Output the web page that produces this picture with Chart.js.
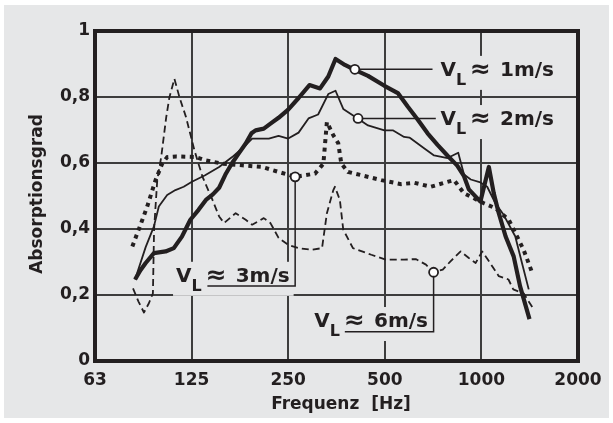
<!DOCTYPE html>
<html>
<head>
<meta charset="utf-8">
<script src="https://cdn.jsdelivr.net/npm/chart.js@4.4.1/dist/chart.umd.min.js"></script>
<style>
  html, body { margin: 0; padding: 0; background: #fff; }
  canvas { display: block; }
</style>
</head>
<body>
<canvas id="absorptionChart" width="613" height="423"></canvas>
<script>
// Frequenz in Hz / Absorptionsgrad
const freq1 = [83.3, 86.6, 89.9, 95.4, 103.7, 110.0, 116.6, 123.9, 131.4, 138.5, 145.6, 152.3, 159.3, 167.2, 175.6, 184.3, 192.1, 197.8, 209.8, 220.7, 233.3, 250, 269.3, 291.2, 314.2, 333.3, 351.1, 375.5, 403.3, 443.2, 498.6, 549.1, 589.3, 632.9, 679.7, 730.0, 784.6, 840.9, 882.7, 913.8, 993.1, 1054.9, 1092.8, 1132.9, 1189.2, 1260.5, 1319.5, 1412.2];
const absorption1 = [0.247, 0.275, 0.297, 0.327, 0.332, 0.342, 0.377, 0.428, 0.458, 0.488, 0.505, 0.525, 0.565, 0.60, 0.63, 0.659, 0.69, 0.699, 0.704, 0.72, 0.737, 0.762, 0.797, 0.836, 0.826, 0.862, 0.915, 0.897, 0.882, 0.864, 0.834, 0.812, 0.771, 0.732, 0.69, 0.655, 0.622, 0.592, 0.56, 0.52, 0.483, 0.588, 0.508, 0.448, 0.378, 0.317, 0.227, 0.127];

const freq2 = [83.3, 89.9, 95.4, 98.8, 104.9, 111.3, 118.1, 125.3, 137.7, 152.3, 167.2, 184.3, 193.0, 217.6, 233.3, 250, 269.3, 289.2, 309.9, 333.3, 351.1, 371.1, 412.7, 443.2, 498.6, 529.5, 574.3, 596.7, 664.3, 712.0, 784.6, 846.8, 882.7, 926.6, 993.1, 1042.5, 1105.8, 1172.9, 1274.6, 1337.9, 1404.4];
const absorption2 = [0.247, 0.345, 0.408, 0.468, 0.503, 0.518, 0.528, 0.543, 0.563, 0.588, 0.618, 0.654, 0.674, 0.674, 0.682, 0.674, 0.692, 0.735, 0.747, 0.809, 0.819, 0.764, 0.734, 0.714, 0.699, 0.699, 0.679, 0.677, 0.644, 0.623, 0.615, 0.631, 0.565, 0.55, 0.541, 0.528, 0.478, 0.443, 0.378, 0.297, 0.217];

const freq3 = [81.7, 87.8, 90.9, 96.5, 101.2, 104.9, 111.9, 129.0, 138.5, 155.9, 179.7, 207.3, 233.3, 262.8, 303.1, 321.8, 330.0, 345.6, 358.0, 366.0, 384.2, 422.5, 487.4, 562.5, 618.1, 695.9, 765.8, 821.9, 882.7, 948.0, 1018.2, 1105.8, 1216.6, 1260.5, 1353.7, 1434.0];
const absorption3 = [0.347, 0.428, 0.468, 0.548, 0.598, 0.618, 0.62, 0.618, 0.608, 0.598, 0.593, 0.588, 0.573, 0.558, 0.568, 0.598, 0.724, 0.684, 0.66, 0.598, 0.573, 0.563, 0.548, 0.536, 0.54, 0.528, 0.54, 0.548, 0.508, 0.493, 0.478, 0.463, 0.428, 0.398, 0.337, 0.272];

const freq4 = [82.1, 85.4, 88.8, 92.0, 94.7, 95.5, 97.7, 100.5, 104.2, 106.6, 110.5, 114.6, 120.1, 127.5, 135.2, 145.2, 152.3, 157.8, 171.5, 184.3, 193.0, 209.8, 220.1, 233.3, 250, 269.3, 295.2, 318.7, 330.0, 345.6, 349.6, 362.2, 371.1, 397.8, 453.8, 505.2, 574.3, 624.2, 671.8, 709.6, 757.9, 801.1, 861.6, 913.8, 959.3, 1005.6, 1064.4, 1132.9, 1214.2, 1257.0, 1353.7, 1453.9];
const absorption4 = [0.22, 0.18, 0.147, 0.175, 0.205, 0.40, 0.548, 0.618, 0.739, 0.799, 0.855, 0.799, 0.739, 0.639, 0.558, 0.488, 0.438, 0.418, 0.448, 0.428, 0.413, 0.433, 0.418, 0.373, 0.352, 0.342, 0.337, 0.342, 0.448, 0.518, 0.528, 0.488, 0.398, 0.342, 0.322, 0.307, 0.307, 0.309, 0.292, 0.269, 0.277, 0.302, 0.332, 0.312, 0.297, 0.332, 0.297, 0.257, 0.247, 0.217, 0.205, 0.157];

const speeds = ["1m/s", "2m/s", "3m/s", "6m/s"];

const xTickValues = [62.5, 125, 250, 500, 1000, 2000];
const xTickLabels = ["63", "125", "250", "500", "1000", "2000"];
const yTickLabels = ["0", "0,2", "0,4", "0,6", "0,8", "1"];

const INK = "#231f20";
const PANEL = "#e6e7e8";
const FONT = "'DejaVu Sans', sans-serif";

// callouts: marker on the curve, leader path, start of the "V_L ≈ ..." text (all in data units)
const callouts = [
    { circle: [403.3, 0.884], path: [[704.2, 0.884]], text: [745.3, 0.864] },
    { circle: [412.7, 0.735], path: [[721.0, 0.735]], text: [745.3, 0.715] },
    { circle: [262.8, 0.558], path: [[262.8, 0.227], [140.0, 0.227]], text: [111.8, 0.240] },
    { circle: [709.6, 0.269], path: [[709.6, 0.089], [375.3, 0.089]], text: [301.6, 0.103] }
];

function toPoints(xs, ys) {
    return xs.map((x, i) => ({ x: x, y: ys[i] }));
}

function px(chart, p) {
    return [chart.scales.x.getPixelForValue(p[0]), chart.scales.y.getPixelForValue(p[1])];
}

// widths of the pieces of "V", subscript "L", "≈", speed
function measureLabel(ctx, speed) {
    ctx.font = `bold 20px ${FONT}`;
    const wV = ctx.measureText("V").width;
    const wSpeed = ctx.measureText(speed).width;
    ctx.font = `bold 16px ${FONT}`;
    const wL = ctx.measureText("L").width;
    ctx.font = `bold 25px ${FONT}`;
    const wApprox = ctx.measureText("\u2248").width;
    const xApprox = wV + wL + 4;
    const xSpeed = xApprox + wApprox + 9;
    return { wV, wL, xApprox, xSpeed, total: xSpeed + wSpeed };
}

const decorPlugin = {
    id: "decor",
    beforeDraw(chart) {
        const ctx = chart.ctx;
        ctx.save();
        ctx.fillStyle = "#fff";
        ctx.fillRect(0, 0, chart.width, chart.height);
        ctx.fillStyle = PANEL;
        ctx.fillRect(4, 5, 605, 413);
        ctx.restore();
    },
    beforeDatasetsDraw(chart) {
        // text boxes hide the grid behind the labels
        const ctx = chart.ctx;
        ctx.save();
        ctx.fillStyle = PANEL;
        callouts.forEach((c, i) => {
            const [tx, ty] = px(chart, c.text);
            const m = measureLabel(ctx, speeds[i]);
            let bottom = ty + 9;
            c.path.forEach(p => { bottom = Math.max(bottom, px(chart, p)[1]); });
            ctx.fillRect(tx - 3, ty - 20, m.total + 7, bottom + 5 - (ty - 20));
        });
        ctx.restore();
    },
    afterDatasetsDraw(chart) {
        const ctx = chart.ctx;
        const a = chart.chartArea;
        ctx.save();

        // frame
        ctx.strokeStyle = INK;
        ctx.lineWidth = 4;
        ctx.strokeRect(a.left, a.top, a.right - a.left, a.bottom - a.top);

        // callouts
        callouts.forEach((c, i) => {
            const [cx, cy] = px(chart, c.circle);
            ctx.strokeStyle = INK;
            ctx.lineWidth = 1.5;
            ctx.beginPath();
            ctx.moveTo(cx, cy);
            c.path.forEach(p => { const q = px(chart, p); ctx.lineTo(q[0], q[1]); });
            ctx.stroke();

            ctx.beginPath();
            ctx.arc(cx, cy, 4.5, 0, Math.PI * 2);
            ctx.fillStyle = "#fff";
            ctx.fill();
            ctx.lineWidth = 1.8;
            ctx.stroke();

            const [tx, ty] = px(chart, c.text);
            const m = measureLabel(ctx, speeds[i]);
            ctx.fillStyle = INK;
            ctx.textAlign = "left";
            ctx.textBaseline = "alphabetic";
            ctx.font = `bold 20px ${FONT}`;
            ctx.fillText("V", tx, ty);
            ctx.fillText(speeds[i], tx + m.xSpeed, ty);
            ctx.font = `bold 16px ${FONT}`;
            ctx.fillText("L", tx + m.wV, ty + 9);
            ctx.font = `bold 25px ${FONT}`;
            ctx.fillText("\u2248", tx + m.xApprox, ty + 1);
        });

        // axis titles
        ctx.fillStyle = INK;
        ctx.font = `bold 17px ${FONT}`;
        ctx.textAlign = "center";
        ctx.textBaseline = "alphabetic";
        ctx.fillText("Frequenz  [Hz]", 341, 408.5);
        ctx.translate(42, 194);
        ctx.rotate(-Math.PI / 2);
        ctx.fillText("Absorptionsgrad", 0, 0);
        ctx.restore();
    }
};

Chart.defaults.font.family = FONT;
Chart.defaults.font.weight = "bold";
Chart.defaults.font.size = 17;
Chart.defaults.color = INK;

const lineBase = { borderColor: INK, pointRadius: 0, tension: 0, fill: false, borderJoinStyle: "round" };

new Chart(document.getElementById("absorptionChart"), {
    type: "line",
    data: {
        datasets: [
            { ...lineBase, label: speeds[0], data: toPoints(freq1, absorption1), borderWidth: 4.2 },
            { ...lineBase, label: speeds[1], data: toPoints(freq2, absorption2), borderWidth: 1.8 },
            { ...lineBase, label: speeds[2], data: toPoints(freq3, absorption3), borderWidth: 4, borderDash: [4, 4.5], borderJoinStyle: "miter" },
            { ...lineBase, label: speeds[3], data: toPoints(freq4, absorption4), borderWidth: 1.8, borderDash: [7, 4] }
        ]
    },
    options: {
        responsive: false,
        animation: false,
        devicePixelRatio: 1,
        layout: { padding: { top: 31, right: 35, left: 0, bottom: 0 } },
        plugins: { legend: { display: false }, tooltip: { enabled: false } },
        scales: {
            x: {
                type: "logarithmic",
                min: 62.5,
                max: 2000,
                afterBuildTicks: scale => { scale.ticks = xTickValues.map(v => ({ value: v })); },
                afterFit: scale => { scale.height = 62; },
                grid: { color: "#3d3d3d", lineWidth: 2, drawTicks: false },
                border: { display: false },
                ticks: {
                    autoSkip: false,
                    maxRotation: 0,
                    padding: 9,
                    callback: (v, i) => xTickLabels[i]
                }
            },
            y: {
                min: 0,
                max: 1,
                afterFit: scale => { scale.width = 95; },
                grid: { color: "#3d3d3d", lineWidth: 2, drawTicks: false },
                border: { display: false },
                ticks: {
                    stepSize: 0.2,
                    padding: 5,
                    callback: (v, i) => yTickLabels[i]
                }
            }
        }
    },
    plugins: [decorPlugin]
});
</script>
</body>
</html>
